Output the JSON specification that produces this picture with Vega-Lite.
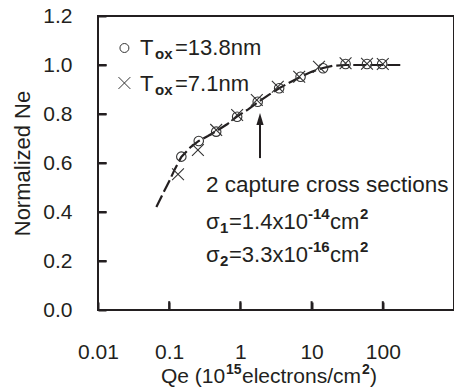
{
  "$schema": "https://vega.github.io/schema/vega-lite/v6.json",
  "width": 356,
  "height": 294,
  "autosize": {"type": "none"},
  "padding": {"left": 98, "top": 16, "right": 0, "bottom": 79},
  "background": "white",
  "data": {"values": [{}]},
  "config": {
    "view": {"stroke": "#231f20", "strokeWidth": 2},
    "font": "Liberation Sans",
    "text": {"font": "Liberation Sans", "color": "#231f20", "align": "left", "baseline": "middle"},
    "rule": {"color": "#231f20", "strokeWidth": 2}
  },
  "datasets": {
    "fit": [
      {"qe": 0.066, "ne": 0.42}, {"qe": 0.08, "ne": 0.47}, {"qe": 0.1, "ne": 0.525},
      {"qe": 0.12, "ne": 0.575}, {"qe": 0.148, "ne": 0.625}, {"qe": 0.2, "ne": 0.665},
      {"qe": 0.26, "ne": 0.69}, {"qe": 0.35, "ne": 0.71}, {"qe": 0.457, "ne": 0.73},
      {"qe": 0.65, "ne": 0.758}, {"qe": 0.9, "ne": 0.79}, {"qe": 1.3, "ne": 0.82},
      {"qe": 1.8, "ne": 0.85}, {"qe": 2.5, "ne": 0.878}, {"qe": 3.5, "ne": 0.905},
      {"qe": 5, "ne": 0.93}, {"qe": 7, "ne": 0.952}, {"qe": 10, "ne": 0.972},
      {"qe": 14, "ne": 0.987}, {"qe": 20, "ne": 0.997}, {"qe": 30, "ne": 1.0},
      {"qe": 60, "ne": 1.0}, {"qe": 100, "ne": 1.0}, {"qe": 190, "ne": 1.0}
    ],
    "points": [
      {"series": "13.8nm", "qe": 0.148, "ne": 0.626},
      {"series": "13.8nm", "qe": 0.26, "ne": 0.69},
      {"series": "13.8nm", "qe": 0.457, "ne": 0.728},
      {"series": "13.8nm", "qe": 0.9, "ne": 0.789},
      {"series": "13.8nm", "qe": 1.75, "ne": 0.85},
      {"series": "13.8nm", "qe": 3.5, "ne": 0.905},
      {"series": "13.8nm", "qe": 7.0, "ne": 0.952},
      {"series": "13.8nm", "qe": 14.5, "ne": 0.987},
      {"series": "13.8nm", "qe": 30, "ne": 1.004},
      {"series": "13.8nm", "qe": 60, "ne": 1.004},
      {"series": "13.8nm", "qe": 98, "ne": 1.004},
      {"series": "7.1nm", "qe": 0.133, "ne": 0.554},
      {"series": "7.1nm", "qe": 0.253, "ne": 0.653},
      {"series": "7.1nm", "qe": 0.457, "ne": 0.735},
      {"series": "7.1nm", "qe": 0.9, "ne": 0.796},
      {"series": "7.1nm", "qe": 1.7, "ne": 0.857},
      {"series": "7.1nm", "qe": 3.35, "ne": 0.911},
      {"series": "7.1nm", "qe": 6.7, "ne": 0.952},
      {"series": "7.1nm", "qe": 12.7, "ne": 0.993},
      {"series": "7.1nm", "qe": 30, "ne": 1.007},
      {"series": "7.1nm", "qe": 60, "ne": 1.005},
      {"series": "7.1nm", "qe": 100, "ne": 1.004}
    ]
  },
  "layer": [
    {
      "data": {"name": "fit"},
      "mark": {"type": "line", "strokeDash": [13, 4], "strokeWidth": 2.2, "color": "#231f20"},
      "encoding": {
        "x": {
          "field": "qe", "type": "quantitative",
          "scale": {"type": "log", "domain": [0.01, 1000], "nice": false},
          "axis": {
            "title": null, "values": [0.01, 0.1, 1, 10, 100], "format": "~g",
            "grid": false, "domain": false, "offset": -8, "zindex": 1,
            "ticks": true, "tickColor": "#231f20", "tickWidth": 2, "tickSize": 8,
            "labelFont": "Liberation Sans", "labelFontSize": 21, "labelColor": "#231f20",
            "labelPadding": 31, "labelFlush": false, "labelOverlap": false
          }
        },
        "y": {
          "field": "ne", "type": "quantitative",
          "scale": {"domain": [0, 1.2], "nice": false, "zero": false},
          "axis": {
            "title": "Normalized Ne", "values": [0, 0.2, 0.4, 0.6, 0.8, 1.0, 1.2], "format": ".1f",
            "grid": false, "domain": false, "offset": -8, "zindex": 1,
            "ticks": true, "tickColor": "#231f20", "tickWidth": 2, "tickSize": 8,
            "labelFont": "Liberation Sans", "labelFontSize": 21, "labelColor": "#231f20",
            "labelPadding": 26, "labelFlush": false, "labelOverlap": false,
            "titleFont": "Liberation Sans", "titleFontSize": 22, "titleFontWeight": "normal",
            "titleColor": "#231f20", "titlePadding": 8
          }
        }
      }
    },
    {"mark": {"type": "rule"}, "encoding": {"x": {"datum": 0.1, "type": "quantitative"}, "y": {"datum": 0.001, "type": "quantitative"}, "y2": {"datum": 0.036}}},
    {"mark": {"type": "rule"}, "encoding": {"x": {"datum": 1, "type": "quantitative"}, "y": {"datum": 0.001, "type": "quantitative"}, "y2": {"datum": 0.036}}},
    {"mark": {"type": "rule"}, "encoding": {"x": {"datum": 10, "type": "quantitative"}, "y": {"datum": 0.001, "type": "quantitative"}, "y2": {"datum": 0.036}}},
    {"mark": {"type": "rule"}, "encoding": {"x": {"datum": 100, "type": "quantitative"}, "y": {"datum": 0.001, "type": "quantitative"}, "y2": {"datum": 0.036}}},
    {"mark": {"type": "rule"}, "encoding": {"y": {"datum": 0.2, "type": "quantitative"}, "x": {"datum": 0.0101, "type": "quantitative"}, "x2": {"datum": 0.0132}}},
    {"mark": {"type": "rule"}, "encoding": {"y": {"datum": 0.4, "type": "quantitative"}, "x": {"datum": 0.0101, "type": "quantitative"}, "x2": {"datum": 0.0132}}},
    {"mark": {"type": "rule"}, "encoding": {"y": {"datum": 0.6, "type": "quantitative"}, "x": {"datum": 0.0101, "type": "quantitative"}, "x2": {"datum": 0.0132}}},
    {"mark": {"type": "rule"}, "encoding": {"y": {"datum": 0.8, "type": "quantitative"}, "x": {"datum": 0.0101, "type": "quantitative"}, "x2": {"datum": 0.0132}}},
    {"mark": {"type": "rule"}, "encoding": {"y": {"datum": 1.0, "type": "quantitative"}, "x": {"datum": 0.0101, "type": "quantitative"}, "x2": {"datum": 0.0132}}},
    {
      "data": {"name": "points"},
      "mark": {"type": "point", "filled": false, "strokeWidth": 1.1, "color": "#333333", "opacity": 1},
      "encoding": {
        "x": {"field": "qe", "type": "quantitative"},
        "y": {"field": "ne", "type": "quantitative"},
        "shape": {"field": "series", "type": "nominal", "legend": null,
          "scale": {"domain": ["13.8nm", "7.1nm"], "range": ["circle", "M-1,-1L1,1M-1,1L1,-1"]}},
        "size": {"field": "series", "type": "nominal", "legend": null,
          "scale": {"domain": ["13.8nm", "7.1nm"], "range": [90, 140]}}
      }
    },
    {
      "mark": {"type": "point", "shape": "circle", "filled": false, "size": 80, "strokeWidth": 1, "color": "#333333", "opacity": 1},
      "encoding": {"x": {"datum": 0.0235, "type": "quantitative"}, "y": {"datum": 1.0694, "type": "quantitative"}}
    },
    {
      "mark": {"type": "point", "shape": "M-1,-1L1,1M-1,1L1,-1", "filled": false, "size": 140, "strokeWidth": 1, "color": "#333333", "opacity": 1},
      "encoding": {"x": {"datum": 0.0235, "type": "quantitative"}, "y": {"datum": 0.9265, "type": "quantitative"}}
    },
    {"mark": {"type": "text", "fontSize": 22, "dx": 0}, "encoding": {"x": {"datum": 0.0389, "type": "quantitative"}, "y": {"datum": 1.0694, "type": "quantitative"}, "text": {"value": "T"}}},
    {"mark": {"type": "text", "fontSize": 15, "fontWeight": "bold", "dx": 15, "dy": 6}, "encoding": {"x": {"datum": 0.0389, "type": "quantitative"}, "y": {"datum": 1.0694, "type": "quantitative"}, "text": {"value": "ox"}}},
    {"mark": {"type": "text", "fontSize": 22, "dx": 35}, "encoding": {"x": {"datum": 0.0389, "type": "quantitative"}, "y": {"datum": 1.0694, "type": "quantitative"}, "text": {"value": "=13.8nm"}}},
    {"mark": {"type": "text", "fontSize": 22, "dx": 0}, "encoding": {"x": {"datum": 0.0389, "type": "quantitative"}, "y": {"datum": 0.9224, "type": "quantitative"}, "text": {"value": "T"}}},
    {"mark": {"type": "text", "fontSize": 15, "fontWeight": "bold", "dx": 15, "dy": 6}, "encoding": {"x": {"datum": 0.0389, "type": "quantitative"}, "y": {"datum": 0.9224, "type": "quantitative"}, "text": {"value": "ox"}}},
    {"mark": {"type": "text", "fontSize": 22, "dx": 35}, "encoding": {"x": {"datum": 0.0389, "type": "quantitative"}, "y": {"datum": 0.9224, "type": "quantitative"}, "text": {"value": "=7.1nm"}}},
    {"mark": {"type": "rule"}, "encoding": {"x": {"datum": 1.885, "type": "quantitative"}, "y": {"datum": 0.62, "type": "quantitative"}, "y2": {"datum": 0.765}}},
    {
      "mark": {"type": "point", "shape": "M0,-1L-0.6,1L0.6,1Z", "filled": true, "size": 144, "color": "#231f20", "opacity": 1},
      "encoding": {"x": {"datum": 1.885, "type": "quantitative"}, "y": {"datum": 0.78, "type": "quantitative"}}
    },
    {"mark": {"type": "text", "fontSize": 22.5}, "encoding": {"x": {"datum": 0.3288, "type": "quantitative"}, "y": {"datum": 0.5102, "type": "quantitative"}, "text": {"value": "2 capture cross sections"}}},
    {"mark": {"type": "text", "fontSize": 22, "dx": 0}, "encoding": {"x": {"datum": 0.3288, "type": "quantitative"}, "y": {"datum": 0.3592, "type": "quantitative"}, "text": {"value": "σ"}}},
    {"mark": {"type": "text", "fontSize": 15, "fontWeight": "bold", "dx": 14, "dy": 6}, "encoding": {"x": {"datum": 0.3288, "type": "quantitative"}, "y": {"datum": 0.3592, "type": "quantitative"}, "text": {"value": "1"}}},
    {"mark": {"type": "text", "fontSize": 22, "dx": 23}, "encoding": {"x": {"datum": 0.3288, "type": "quantitative"}, "y": {"datum": 0.3592, "type": "quantitative"}, "text": {"value": "=1.4x10"}}},
    {"mark": {"type": "text", "fontSize": 15, "fontWeight": "bold", "dx": 102, "dy": -8}, "encoding": {"x": {"datum": 0.3288, "type": "quantitative"}, "y": {"datum": 0.3592, "type": "quantitative"}, "text": {"value": "-14"}}},
    {"mark": {"type": "text", "fontSize": 22, "dx": 124}, "encoding": {"x": {"datum": 0.3288, "type": "quantitative"}, "y": {"datum": 0.3592, "type": "quantitative"}, "text": {"value": "cm"}}},
    {"mark": {"type": "text", "fontSize": 15, "fontWeight": "bold", "dx": 154, "dy": -8}, "encoding": {"x": {"datum": 0.3288, "type": "quantitative"}, "y": {"datum": 0.3592, "type": "quantitative"}, "text": {"value": "2"}}},
    {"mark": {"type": "text", "fontSize": 22, "dx": 0}, "encoding": {"x": {"datum": 0.3288, "type": "quantitative"}, "y": {"datum": 0.2245, "type": "quantitative"}, "text": {"value": "σ"}}},
    {"mark": {"type": "text", "fontSize": 15, "fontWeight": "bold", "dx": 14, "dy": 6}, "encoding": {"x": {"datum": 0.3288, "type": "quantitative"}, "y": {"datum": 0.2245, "type": "quantitative"}, "text": {"value": "2"}}},
    {"mark": {"type": "text", "fontSize": 22, "dx": 23}, "encoding": {"x": {"datum": 0.3288, "type": "quantitative"}, "y": {"datum": 0.2245, "type": "quantitative"}, "text": {"value": "=3.3x10"}}},
    {"mark": {"type": "text", "fontSize": 15, "fontWeight": "bold", "dx": 102, "dy": -8}, "encoding": {"x": {"datum": 0.3288, "type": "quantitative"}, "y": {"datum": 0.2245, "type": "quantitative"}, "text": {"value": "-16"}}},
    {"mark": {"type": "text", "fontSize": 22, "dx": 124}, "encoding": {"x": {"datum": 0.3288, "type": "quantitative"}, "y": {"datum": 0.2245, "type": "quantitative"}, "text": {"value": "cm"}}},
    {"mark": {"type": "text", "fontSize": 15, "fontWeight": "bold", "dx": 154, "dy": -8}, "encoding": {"x": {"datum": 0.3288, "type": "quantitative"}, "y": {"datum": 0.2245, "type": "quantitative"}, "text": {"value": "2"}}},
    {"mark": {"type": "text", "fontSize": 21, "dx": 0}, "encoding": {"x": {"datum": 0.07669, "type": "quantitative"}, "y": {"datum": -0.2735, "type": "quantitative"}, "text": {"value": "Qe (10"}}},
    {"mark": {"type": "text", "fontSize": 14, "fontWeight": "bold", "dx": 65, "dy": -7}, "encoding": {"x": {"datum": 0.07669, "type": "quantitative"}, "y": {"datum": -0.2735, "type": "quantitative"}, "text": {"value": "15"}}},
    {"mark": {"type": "text", "fontSize": 21, "dx": 81}, "encoding": {"x": {"datum": 0.07669, "type": "quantitative"}, "y": {"datum": -0.2735, "type": "quantitative"}, "text": {"value": "electrons/cm"}}},
    {"mark": {"type": "text", "fontSize": 14, "fontWeight": "bold", "dx": 201, "dy": -7}, "encoding": {"x": {"datum": 0.07669, "type": "quantitative"}, "y": {"datum": -0.2735, "type": "quantitative"}, "text": {"value": "2"}}},
    {"mark": {"type": "text", "fontSize": 21, "dx": 209}, "encoding": {"x": {"datum": 0.07669, "type": "quantitative"}, "y": {"datum": -0.2735, "type": "quantitative"}, "text": {"value": ")"}}}
  ]
}
